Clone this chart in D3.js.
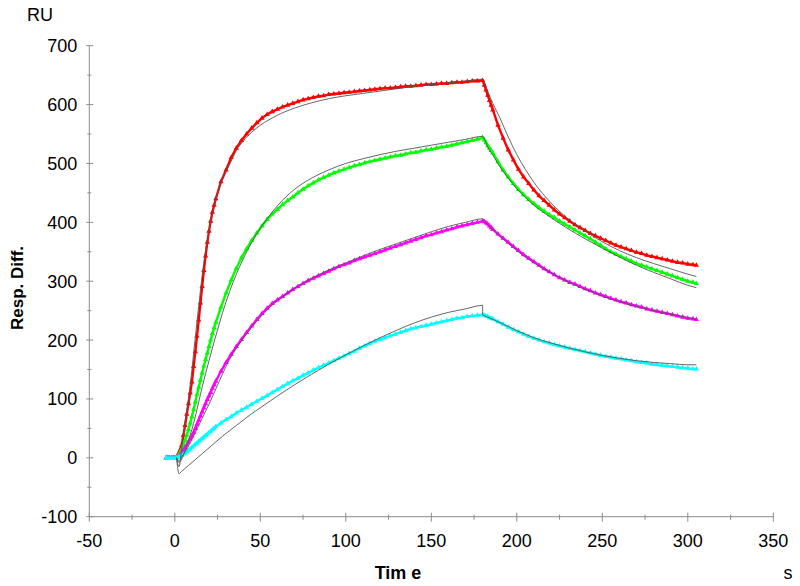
<!DOCTYPE html>
<html>
<head>
<meta charset="utf-8">
<script src="https://cdn.jsdelivr.net/npm/d3@7"></script>
<style>
  html, body { margin: 0; padding: 0; background: #fff; }
  svg { display: block; }
  text { font-family: "Liberation Sans", Arial, sans-serif; fill: #000; }
</style>
</head>
<body>
<svg id="chart" width="800" height="586"></svg>
<script>
// ---------- data ----------
const time = [-5,-4,-3,-2,-1,0,1,2,3,4,5,6,7,8,9,10,11,12,13,14,15,16,17,18,19,20,21,22,23,24,
  27,30,33,36,39,42,45,48,51,54,57,60,63,66,69,72,75,78,81,84,87,90,93,96,99,102,105,108,111,114,117,120,123,126,129,132,135,138,141,144,147,150,153,156,159,162,165,168,171,174,177,180,
  181,182,183,184,185,186,
  189,192,195,198,201,204,207,210,213,216,219,222,225,228,231,234,237,240,243,246,249,252,255,258,261,264,267,270,273,276,279,282,285,288,291,294,297,300,303,
  305];

const redValues = [0,0,-1,0,0,0,1, 6,13,21,38,55,74,92,110,129,155,180,207,234,263,291,318,343,366,385,402,417,429,440,
  469,489,510,526,539,550,560,569,577,583,588,592,596,599,602,605,608,610,612,614,615,617,618,619,620,621,622,623,624,625,626,627,628,628,629,630,631,631,632,633,634,634,635,636,636,637,638,638,639,640,640,641,
  633,625,616,607,599,591,
  565,543,523,506,490,477,466,455,445,437,429,421,414,408,402,396,391,386,381,377,373,369,365,361,358,355,352,349,347,344,342,340,338,336,334,332,331,329,328,
  327];

const greenValues = [0,0,-1,0,0,0,0, 3,8,14,22,30,39,48,59,70,82,95,108,120,132,144,156,167,178,189,200,211,221,230,
  256,280,302,322,340,355,369,382,394,405,414,422,430,437,443,450,456,462,467,472,476,480,484,487,490,493,496,498,501,503,505,507,509,511,513,514,516,518,519,521,523,524,526,528,529,531,533,535,537,539,541,544,
  540,535,530,526,522,518,
  503,489,477,466,456,447,439,432,425,419,413,408,402,397,392,387,382,377,372,366,361,355,350,346,342,338,334,330,327,324,321,318,315,312,309,306,303,300,298,
  296];

const magentaValues = [0,0,0,-1,0,0,0, 1,4,8,13,17,22,27,32,37,43,50,57,64,71,78,85,92,99,105,111,118,124,130,
  147,162,176,189,201,213,224,235,245,254,262,268,274,280,286,291,296,301,305,309,313,317,321,325,328,331,335,338,341,344,347,350,353,356,359,362,365,368,371,374,377,379,382,384,387,389,392,394,396,398,400,402,
  401,399,397,394,391,388,
  380,373,366,359,352,345,339,333,327,321,316,311,306,302,298,295,291,287,284,280,277,274,271,268,265,263,260,258,256,253,251,249,247,245,243,241,239,237,236,
  235];

const cyanValues = [0,-1,-1,-1,-1,-1,0, 1,2,4,6,8,10,13,15,18,20,23,25,28,30,33,35,38,40,43,45,48,50,53,
  59,65,70,76,81,86,91,96,101,106,111,116,121,126,131,135,140,144,149,153,157,161,165,169,173,177,181,186,190,194,198,201,204,207,210,213,216,219,221,223,225,227,229,231,233,235,237,238,240,241,242,243,
  242,241,240,238,237,236,
  231,227,222,218,214,210,206,203,200,197,195,192,190,188,186,184,182,180,178,176,174,172,171,169,168,166,165,163,162,161,159,158,157,156,155,154,153,152,151,
  151];

// fitted curves (association + dissociation phases)
const fitTimeAssoc = [1,2.5,4,6,8,10,12,14,16,18,20,24,28,32,36,40,45,50,55,60,70,80,90,100,110,120,130,140,150,160,170,180];
const fitTimeDiss = [180,183,186,190,195,200,205,210,220,230,240,250,260,270,280,290,300,305];

const redFitAssoc = [0,-15,15,60,100,150,205,258,310,352,385,440,475,498,522,538,553,565,574,582,594,603,610,615,619,623,627,631,634,637,640,643];
const redFitDiss = [643,622,602,578,545,515,490,468,433,406,385,367,352,340,330,321,312,308];
const greenFitAssoc = [0,-8,-2,12,30,48,70,95,120,143,165,207,247,282,312,338,366,390,410,428,456,475,489,500,508,515,521,526,531,536,541,546];
const greenFitDiss = [546,528,514,495,475,457,442,429,408,389,372,356,341,327,315,304,293,289];
const magentaFitAssoc = [0,-6,2,10,20,31,43,55,67,79,91,117,143,167,186,203,222,239,254,267,288,305,319,331,343,354,364,374,384,393,400,406];
const magentaFitDiss = [406,396,388,377,364,352,341,331,314,299,286,275,265,257,250,244,238,235];
const cyanFitAssoc = [0,-27,-23,-18,-13,-8,-3,2,7,12,17,27,37,46,55,64,75,85,95,105,124,142,159,175,190,204,217,229,239,247,253,259];
const cyanFitDiss = [243,239,235,230,223,216,210,204,195,187,180,174,169,165,162,160,158,158];

const seriesNames = ["red", "green", "magenta", "cyan"];
const seriesColors = ["#ff0000", "#00ff00", "#ff00ff", "#00ffff"];
const seriesValues = [redValues, greenValues, magentaValues, cyanValues];
const fitAssoc = [redFitAssoc, greenFitAssoc, magentaFitAssoc, cyanFitAssoc];
const fitDiss = [redFitDiss, greenFitDiss, magentaFitDiss, cyanFitDiss];

const xMajorTicks = [-50,0,50,100,150,200,250,300,350];
const xMinorTicks = [-25,25,75,125,175,225,275,325];
const yMajorTicks = [-100,0,100,200,300,400,500,600,700];
const yMinorTicks = [-50,50,150,250,350,450,550,650];

// ---------- layout ----------
const svg = d3.select("#chart");
const x = d3.scaleLinear().domain([-50, 350]).range([89.3, 773.3]);
const y = d3.scaleLinear().domain([-100, 700]).range([516.7, 45.7]);
const axisColor = "#8c8c8c";

// x axis
const gx = svg.append("g").attr("transform", `translate(0,${y(-100)})`);
gx.append("line").attr("x1", x(-50)).attr("x2", x(350)).attr("stroke", axisColor);
gx.selectAll(".xmaj").data(xMajorTicks).join("line").attr("class", "xmaj")
  .attr("x1", d => x(d)).attr("x2", d => x(d)).attr("y1", -4).attr("y2", 5)
  .attr("stroke", axisColor);
gx.selectAll(".xmin").data(xMinorTicks).join("line").attr("class", "xmin")
  .attr("x1", d => x(d)).attr("x2", d => x(d)).attr("y1", -2).attr("y2", 3)
  .attr("stroke", axisColor);
gx.selectAll("text").data(xMajorTicks).join("text")
  .attr("x", d => x(d)).attr("y", 30)
  .attr("text-anchor", "middle").attr("font-size", 18).text(d => d);

// y axis
const gy = svg.append("g").attr("transform", `translate(${x(-50)},0)`);
gy.append("line").attr("y1", y(-100)).attr("y2", y(700)).attr("stroke", axisColor);
gy.selectAll(".ymaj").data(yMajorTicks).join("line").attr("class", "ymaj")
  .attr("y1", d => y(d)).attr("y2", d => y(d)).attr("x1", -3).attr("x2", 4)
  .attr("stroke", axisColor);
gy.selectAll(".ymin").data(yMinorTicks).join("line").attr("class", "ymin")
  .attr("y1", d => y(d)).attr("y2", d => y(d)).attr("x1", -2).attr("x2", 2)
  .attr("stroke", axisColor);
gy.selectAll("text").data(yMajorTicks).join("text")
  .attr("x", -12).attr("y", d => y(d)).attr("dy", "0.36em")
  .attr("text-anchor", "end").attr("font-size", 18).text(d => d);

// axis titles
svg.append("text").attr("x", 27).attr("y", 21).attr("font-size", 18).text("RU");
svg.append("text").attr("transform", "translate(23,288) rotate(-90)")
  .attr("text-anchor", "middle").attr("font-size", 17).attr("font-weight", "bold").text("Resp. Diff.");
svg.append("text").attr("x", 398).attr("y", 579)
  .attr("text-anchor", "middle").attr("font-size", 18).attr("font-weight", "bold").text("Tim e");
svg.append("text").attr("x", 788).attr("y", 579)
  .attr("text-anchor", "middle").attr("font-size", 18).text("s");

// ---------- data series ----------
const line = d3.line().x(d => x(d[0])).y(d => y(d[1]));
const tri = d3.symbol().type(d3.symbolTriangle).size(12);

seriesValues.forEach((vals, i) => {
  const pts = time.map((t, k) => [t, vals[k]]);
  const g = svg.append("g").attr("class", "series-" + seriesNames[i]);
  g.append("path").attr("d", line(pts)).attr("fill", "none")
    .attr("stroke", seriesColors[i]).attr("stroke-width", 2.4).attr("stroke-linejoin", "round");
  g.selectAll("path.m").data(pts).join("path").attr("class", "m")
    .attr("transform", d => `translate(${x(d[0])},${y(d[1])})`)
    .attr("d", tri).attr("fill", seriesColors[i]);
});

// ---------- fits ----------
const fitLine = d3.line().x(d => x(d[0])).y(d => y(d[1])).curve(d3.curveMonotoneX);
fitAssoc.forEach((a, i) => {
  const pts = fitTimeAssoc.map((t, k) => [t, a[k]])
    .concat(fitTimeDiss.map((t, k) => [t, fitDiss[i][k]]));
  svg.append("path").attr("d", fitLine(pts))
    .attr("fill", "none").attr("stroke", "#555").attr("stroke-width", 0.9);
});
</script>
</body>
</html>
